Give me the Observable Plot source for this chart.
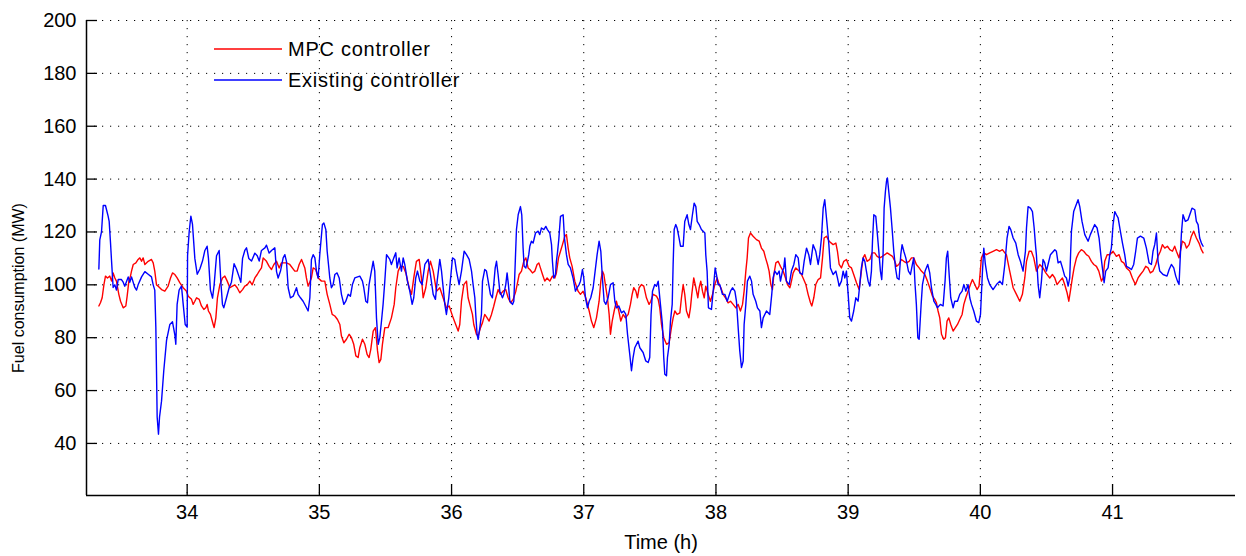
<!DOCTYPE html>
<html><head><meta charset="utf-8">
<script src="https://cdn.jsdelivr.net/npm/d3@7"></script>
<script src="https://cdn.jsdelivr.net/npm/@observablehq/plot@0.6"></script>
<style>
body{margin:0;background:#fff;}
#wrap{position:relative;width:1246px;height:556px;font-family:"Liberation Sans",Arial,sans-serif;}
#legend{position:absolute;left:0;top:0;pointer-events:none;}
</style></head><body><div id="wrap"></div>
<script>
const xTicks = [34,35,36,37,38,39,40,41];
const yTicks = [40,60,80,100,120,140,160,180,200];
const seriesNames = ["MPC controller","Existing controller"];
const seriesColors = ["#ff0000","#0000ff"];
const xLabel = "Time (h)";
const yLabel = "Fuel consumption (MW)";

// [time (h), fuel consumption (MW)]
const mpcSeries = [
[33.332,92],[33.344,93.2],[33.357,95.1],[33.370,100],[33.382,103.3],[33.397,102.6],[33.415,103.3],[33.428,101.4],[33.440,104.5],[33.453,102.6],[33.465,101.4],[33.483,96.4],[33.496,93.8],[33.516,91.3],[33.536,92],[33.546,95.7],[33.559,101.4],[33.571,103.3],[33.579,105.2],[33.592,107.7],[33.612,108.3],[33.629,109.6],[33.642,110.2],[33.655,108.9],[33.667,110.2],[33.680,107.7],[33.705,108.9],[33.730,109.6],[33.743,108.3],[33.755,105.2],[33.768,100],[33.781,99.5],[33.806,98.2],[33.831,97.6],[33.856,99.5],[33.874,102.6],[33.889,104.5],[33.907,103.9],[33.924,102.6],[33.944,100.8],[33.970,98.9],[33.995,97.6],[34.008,95.7],[34.033,94.5],[34.045,92.6],[34.058,93.8],[34.071,95.1],[34.091,94.5],[34.108,92],[34.126,90.7],[34.141,91.3],[34.151,92.6],[34.161,90.1],[34.176,88.8],[34.197,85],[34.204,83.8],[34.217,87.5],[34.229,95.1],[34.247,100],[34.267,102.6],[34.285,103.3],[34.303,101.4],[34.323,98.9],[34.343,99.5],[34.361,100],[34.378,98.9],[34.398,97],[34.419,98.2],[34.436,99.5],[34.454,100],[34.474,101.4],[34.492,100],[34.512,102.6],[34.530,103.9],[34.545,105.2],[34.562,106.4],[34.575,110.2],[34.600,108.9],[34.620,107],[34.638,105.8],[34.656,107.7],[34.676,108.9],
[34.696,106.4],[34.713,108.3],[34.751,108.3],[34.776,107.7],[34.814,105.2],[34.832,105.2],[34.847,107.7],[34.865,109.6],[34.890,106.4],[34.902,102.6],[34.915,99.5],[34.940,102.6],[34.953,106.4],[34.973,105.8],[34.991,102.6],[35.016,101.4],[35.041,101.4],[35.059,96.4],[35.079,92.6],[35.097,88.8],[35.117,88.2],[35.137,86.9],[35.155,85],[35.167,80.6],[35.185,78.1],[35.205,79.4],[35.225,81.3],[35.243,80],[35.260,77.5],[35.276,73.1],[35.293,72.5],[35.306,76.2],[35.326,79.4],[35.344,77.5],[35.361,73.7],[35.376,72.5],[35.389,75.6],[35.407,82.5],[35.424,83.8],[35.440,75],[35.452,70.6],[35.465,71.8],[35.477,77.5],[35.495,83.8],[35.520,83.8],[35.545,87.5],[35.566,92.6],[35.578,98.9],[35.596,105.2],[35.613,107],[35.634,107],[35.654,104.5],[35.679,98.9],[35.697,96.4],[35.714,102.6],[35.734,108.9],[35.755,109.6],[35.772,102.6],[35.785,95.1],[35.805,98.9],[35.823,105.2],[35.840,108.9],[35.861,105.2],[35.886,97.6],[35.911,98.9],[35.936,95.1],[35.961,91.3],[35.982,92],[36.012,87.5],[36.050,82.5],[36.062,85],[36.075,93.8],[36.093,100.1],[36.113,101.4],
[36.125,95.1],[36.138,92.6],[36.158,88.8],[36.168,85],[36.188,81.3],[36.201,80.6],[36.219,83.8],[36.234,85.7],[36.251,88.8],[36.269,87.5],[36.284,86.3],[36.302,88.8],[36.319,91.9],[36.335,95.1],[36.352,98.2],[36.370,96.4],[36.390,97.6],[36.410,98.2],[36.428,95.1],[36.446,93.2],[36.466,94.5],[36.486,97.6],[36.496,100.1],[36.511,103.9],[36.529,105.2],[36.546,108.9],[36.562,110.2],[36.579,106.4],[36.592,105.8],[36.612,104.5],[36.630,105.2],[36.647,107.7],[36.660,108.3],[36.672,106.4],[36.688,103.9],[36.705,101.4],[36.723,102.6],[36.743,101.4],[36.763,103.3],[36.781,102.6],[36.793,104.5],[36.809,110.2],[36.824,112.7],[36.839,115.2],[36.857,118.4],[36.869,119],[36.882,113.9],[36.894,110.2],[36.912,107],[36.932,101.4],[36.957,97.6],[36.975,96.4],[36.995,97.6],[37.015,95.1],[37.041,90.1],[37.058,86.3],[37.076,83.8],[37.096,87.5],[37.116,93.8],[37.129,101.4],[37.141,105.2],[37.152,103.9],[37.167,98.9],[37.179,95.1],[37.192,88.8],[37.202,81.3],[37.215,86.3],[37.230,90.1],[37.247,93.8],[37.265,90.1],[37.280,86.3],[37.298,88.8],[37.315,87.5],[37.336,88.8],[37.353,92.6],[37.366,96.4],[37.378,98.9],[37.394,97.6],[37.406,95.1],[37.419,98.9],[37.436,100.1],[37.454,99.5],[37.474,95.1],[37.494,92.6],[37.507,93.8],[37.525,96.4],[37.550,95.7],
[37.563,94.5],[37.575,91.3],[37.588,85],[37.605,80],[37.626,77.5],[37.646,78.1],[37.663,83.8],[37.676,87.5],[37.689,90.1],[37.706,88.8],[37.727,89.4],[37.739,95.1],[37.752,100.1],[37.764,96.4],[37.777,90.1],[37.795,87.5],[37.807,91.3],[37.817,96.4],[37.832,102.6],[37.848,98.9],[37.863,95.1],[37.873,98.9],[37.885,101.4],[37.898,97.6],[37.911,95.1],[37.923,99.5],[37.941,96.4],[37.958,93.8],[37.974,96.4],[37.991,100.1],[38.009,102.6],[38.024,100.1],[38.037,98.9],[38.054,96.4],[38.072,95.1],[38.092,93.2],[38.110,93.8],[38.130,92.6],[38.150,91.3],[38.168,92.6],[38.185,90.1],[38.201,92.6],[38.213,97.6],[38.226,105.2],[38.236,110.2],[38.246,117.7],[38.261,119.6],[38.281,118.4],[38.306,117.1],[38.327,116.5],[38.344,113.9],[38.362,112.7],[38.375,110.2],[38.390,107.7],[38.402,105.2],[38.415,100.1],[38.427,98.2],[38.438,103.9],[38.453,108.3],[38.470,108.9],[38.488,107],[38.508,105.2],[38.526,102.6],[38.541,100.1],[38.559,98.9],[38.571,101.4],[38.584,104.5],[38.604,106.4],[38.629,105.2],[38.647,103.9],[38.659,102.6],[38.680,100.1],[38.697,96.4],[38.715,93.2],[38.725,92],[38.740,95.1],[38.755,100.1],[38.773,102],[38.791,102.6],[38.806,110.2],[38.818,117.7],[38.836,118.4],[38.856,116.5],[38.886,115.2],[38.907,115.8],[38.919,112.7],[38.932,107.7],[38.949,106.4],[38.967,108.9],[38.987,109.6],
[39.007,107],[39.025,106.4],[39.042,103.9],[39.063,100.8],[39.083,98.2],[39.100,105.2],[39.113,110.2],[39.126,111.4],[39.143,108.9],[39.164,109.6],[39.181,112.1],[39.201,112.1],[39.219,110.8],[39.239,110.2],[39.259,110.8],[39.277,111.4],[39.295,112.1],[39.315,111.4],[39.335,110.8],[39.353,108.9],[39.365,107],[39.383,107.7],[39.403,109.6],[39.421,108.9],[39.441,108.3],[39.461,108.9],[39.479,110.2],[39.496,110.2],[39.516,107.7],[39.537,106.4],[39.554,105.2],[39.580,103.9],[39.600,101.4],[39.617,98.9],[39.638,95.7],[39.655,94.5],[39.668,93.2],[39.680,90.1],[39.693,87.5],[39.706,81.3],[39.723,79.4],[39.736,80],[39.748,86.3],[39.761,87.5],[39.776,85],[39.794,82.5],[39.811,83.8],[39.827,85],[39.844,86.9],[39.862,88.8],[39.875,92.6],[39.890,95.1],[39.907,97.6],[39.925,100.1],[39.940,102],[39.958,100.1],[39.975,98.2],[39.990,99.5],[40.008,110.2],[40.026,112.1],[40.046,111.4],[40.071,112.1],[40.096,112.7],[40.122,113.3],[40.147,112.7],[40.167,113.3],[40.185,112.1],[40.197,111.4],[40.222,105.2],[40.248,98.9],[40.273,96.4],[40.298,93.8],[40.318,96.4],[40.336,102.6],[40.349,108.9],[40.369,112.7],[40.386,112.7],[40.404,110.2],[40.424,105.2],
[40.449,107.7],[40.474,106.4],[40.495,104.5],[40.525,102.6],[40.545,103.9],[40.563,102.6],[40.580,100.1],[40.600,101.4],[40.621,102.6],[40.638,100.1],[40.656,97],[40.669,93.8],[40.681,97.6],[40.696,102.6],[40.709,106.4],[40.727,110.2],[40.744,112.1],[40.764,113.3],[40.782,112.7],[40.802,111.4],[40.820,110.8],[40.840,108.9],[40.858,107.7],[40.878,107],[40.896,105.2],[40.916,101.4],[40.928,102.6],[40.941,108.9],[40.959,111.4],[40.979,111.4],[41.004,112.7],[41.029,110.8],[41.049,111.4],[41.067,108.9],[41.085,108.3],[41.105,106.4],[41.130,105.2],[41.150,102.6],[41.173,100.1],[41.193,102.6],[41.211,103.9],[41.231,105.2],[41.251,107],[41.269,106.4],[41.286,104.5],[41.306,105.2],[41.327,107.7],[41.344,110.8],[41.362,112.7],[41.377,115.2],[41.395,113.9],[41.415,114.6],[41.433,113.3],[41.453,112.7],[41.470,114.6],[41.483,112.7],[41.503,110.2],[41.513,112.7],[41.528,116.5],[41.546,115.8],[41.559,113.9],[41.579,115.2],[41.596,118.4],[41.614,120.3],[41.634,117.7],[41.654,115.8],[41.672,113.3],[41.685,112.1]
];

const existingSeries = [
[33.332,106],[33.339,117],[33.352,120],[33.365,130],[33.382,130],[33.402,126],[33.410,124],[33.415,120],[33.420,116],[33.428,109],[33.440,99],[33.453,100],[33.465,98],[33.478,102],[33.503,102],[33.516,101],[33.528,99.5],[33.554,103],[33.566,101],[33.579,103],[33.604,99],[33.617,98],[33.629,100],[33.655,103],[33.680,105],[33.705,104],[33.730,103],[33.743,100],[33.755,98],[33.763,84],[33.768,67.5],[33.773,50],[33.783,43.5],[33.791,50],[33.806,56],[33.823,67.5],[33.844,79],[33.869,85],[33.889,86],[33.907,81],[33.914,77.5],[33.924,92.6],[33.939,98],[33.957,99.5],[33.970,92.6],[33.985,85],[34.000,84],[34.003,111],[34.015,120],[34.028,126],[34.040,123],[34.058,110],[34.076,104],[34.096,106],[34.116,109],[34.134,113],[34.151,114.6],[34.161,110],[34.176,98],[34.192,95],[34.204,100],[34.222,111],[34.242,113],[34.255,101],[34.267,92.6],[34.277,91.3],[34.297,95],[34.318,99],[34.335,101],[34.355,108],[34.373,106],[34.393,103],[34.406,101],[34.419,110],[34.436,113],[34.449,114],[34.466,110],[34.487,109],[34.512,112],[34.530,111],[34.545,109],[34.562,113],[34.588,114],[34.600,115],[34.620,112],[34.638,113],[34.663,114],[34.676,105],
[34.688,102.6],[34.706,105.2],[34.726,110.2],[34.739,111.4],[34.751,108.9],[34.764,98.9],[34.781,95.1],[34.802,95.7],[34.827,98.9],[34.839,96.4],[34.857,95.1],[34.877,93.8],[34.897,91.9],[34.915,90.1],[34.928,95.1],[34.940,109.6],[34.953,111.4],[34.966,110.2],[34.978,105.2],[34.991,102.6],[35.003,111.4],[35.023,122.8],[35.034,123.4],[35.049,120.9],[35.059,112.7],[35.069,107.7],[35.079,102.6],[35.091,98.9],[35.104,100.1],[35.117,103.9],[35.134,104.5],[35.150,102.6],[35.167,96.4],[35.185,92.6],[35.200,93.8],[35.218,96.4],[35.235,95.7],[35.250,100.1],[35.268,102.6],[35.306,103.3],[35.326,101.4],[35.336,98.9],[35.351,93.8],[35.364,93.2],[35.376,100.1],[35.389,103.9],[35.407,108.9],[35.419,105.2],[35.432,87.5],[35.445,77.5],[35.457,80],[35.470,86.3],[35.482,92.6],[35.495,101.4],[35.508,111.4],[35.533,109.6],[35.545,107.7],[35.563,110.2],[35.578,112.1],[35.588,106.4],[35.603,110.2],[35.621,105.2],[35.634,110.2],[35.646,107.7],[35.666,101.4],[35.684,97.6],[35.702,92.6],[35.714,95.1],[35.729,102.6],[35.742,105.2],[35.760,101.4],[35.777,100.1],[35.798,107.7],[35.823,109.6],[35.840,103.9],[35.861,96.4],[35.878,94.5],[35.891,101.4],[35.911,109.6],[35.924,105.2],[35.949,92.6],[35.961,88.8],[35.979,95.1],[36.007,110.2],[36.024,109.6],[36.037,105.2],[36.057,100.1],[36.075,105.2],[36.095,112.7],[36.113,111.4],
[36.133,109.6],[36.151,105.2],[36.163,100.1],[36.176,95.1],[36.183,88.8],[36.193,81.3],[36.201,79.4],[36.214,83.8],[36.226,88.8],[36.234,101.4],[36.251,105.8],[36.264,105.2],[36.277,101.4],[36.294,96.4],[36.309,95.1],[36.319,100.1],[36.330,106.4],[36.340,108.9],[36.352,103.9],[36.365,97.6],[36.385,95.1],[36.395,96.4],[36.410,100.1],[36.420,104.5],[36.430,100.1],[36.441,93.8],[36.461,92.6],[36.471,93.8],[36.483,110.2],[36.491,121],[36.504,126.5],[36.521,129.6],[36.531,126.5],[36.541,113.9],[36.549,107],[36.562,106.4],[36.574,108.9],[36.584,111.4],[36.592,114.6],[36.604,116.5],[36.617,115.8],[36.635,119.6],[36.655,120.3],[36.667,119],[36.680,121.5],[36.698,120.9],[36.713,122.1],[36.725,120.9],[36.743,119.6],[36.756,115.2],[36.763,108.9],[36.773,102.6],[36.786,103.9],[36.793,108.9],[36.801,112.1],[36.811,117.1],[36.824,125.9],[36.844,126.5],[36.854,117.7],[36.869,111.4],[36.882,107.7],[36.899,106.4],[36.919,102.6],[36.937,97.6],[36.950,98.9],[36.965,100.1],[36.975,101.4],[36.990,105.8],[37.000,102.6],[37.013,95.1],[37.028,91.3],[37.041,93.8],[37.053,95.1],[37.071,98.9],[37.086,105.2],[37.101,111.4],[37.116,116.5],[37.129,112.7],[37.141,102.6],[37.154,93.8],[37.167,92.6],[37.184,95.1],[37.202,100.1],[37.222,100.8],[37.235,93.8],[37.247,91.3],[37.265,92],[37.285,89.4],[37.303,90.1],[37.318,88.8],[37.331,81.3],[37.348,73.7],[37.361,67.5],[37.373,72.5],[37.386,76.2],[37.411,78.7],[37.424,76.2],[37.449,74.4],[37.469,71.2],[37.487,70.6],[37.499,72.5],[37.509,88.8],[37.520,97.6],[37.537,100.1],[37.550,99.5],
[37.563,101.4],[37.580,92.6],[37.595,85],[37.605,72.5],[37.613,66.2],[37.626,65.6],[37.633,72.5],[37.646,77.5],[37.656,86.3],[37.669,92.6],[37.676,107.7],[37.684,120.9],[37.696,122.8],[37.706,121.5],[37.721,117.7],[37.732,114.6],[37.752,114.6],[37.764,124],[37.782,126.5],[37.795,122.8],[37.807,120.9],[37.822,126.5],[37.835,130.9],[37.848,129.6],[37.858,124],[37.873,122.8],[37.890,120.9],[37.916,119.6],[37.923,111.4],[37.933,105.2],[37.943,91.3],[37.966,90.7],[37.979,97.6],[37.994,106.4],[38.004,103.9],[38.016,100.1],[38.029,100.1],[38.049,96.4],[38.067,96.4],[38.085,93.8],[38.110,97.6],[38.125,98.9],[38.143,97.6],[38.155,93.8],[38.168,83.8],[38.180,75],[38.193,68.7],[38.206,71.2],[38.213,85],[38.226,92.6],[38.238,101.4],[38.256,103.3],[38.269,101.4],[38.281,96.4],[38.301,93.8],[38.314,91.3],[38.332,90.1],[38.344,83.8],[38.357,87.5],[38.382,90.1],[38.407,88.8],[38.422,96.4],[38.432,102.6],[38.445,105.2],[38.463,103.9],[38.478,105.2],[38.488,101.4],[38.503,105.2],[38.513,106.4],[38.521,110.2],[38.533,101.4],[38.554,100.1],[38.571,105.2],[38.589,107.7],[38.604,111.4],[38.622,110.2],[38.634,104.5],[38.654,103.9],[38.667,108.9],[38.685,113.9],[38.702,111.4],[38.715,107.7],[38.735,115.2],[38.755,112.7],[38.773,107.7],[38.785,111.4],[38.798,117.7],[38.811,129],[38.823,132.2],[38.836,125.3],[38.843,121.5],[38.854,115.2],[38.866,106.4],[38.886,103.9],[38.907,105.2],[38.919,102.6],[38.932,99.5],[38.949,101.4],[38.962,105.2],[38.975,102.6],[38.987,105.2],
[39.000,96.4],[39.012,87.5],[39.025,86.3],[39.042,90.1],[39.058,95.1],[39.075,93.8],[39.088,100.1],[39.100,106.4],[39.113,110.2],[39.126,108.9],[39.138,105.2],[39.151,101.4],[39.164,99.5],[39.176,105.2],[39.184,116.5],[39.194,126.5],[39.209,125.9],[39.219,120.3],[39.232,112.7],[39.244,105.2],[39.254,102],[39.264,111.4],[39.272,129],[39.282,135.4],[39.290,139.2],[39.297,140.4],[39.307,135.4],[39.320,129],[39.332,121.5],[39.345,112.7],[39.358,106.4],[39.370,102.6],[39.385,102],[39.398,111.4],[39.408,115.2],[39.421,112.7],[39.436,110.2],[39.446,107.7],[39.456,105.2],[39.471,103.9],[39.486,107.7],[39.496,110.2],[39.506,100.1],[39.516,92.6],[39.527,80],[39.537,79.4],[39.552,92.6],[39.562,100.1],[39.582,105.2],[39.602,107.7],[39.617,104.5],[39.630,98.9],[39.648,93.8],[39.663,92.6],[39.675,91.3],[39.698,92.6],[39.718,92],[39.733,101.4],[39.743,110.2],[39.753,112.7],[39.764,103.9],[39.776,95.1],[39.794,91.3],[39.806,93.8],[39.827,93.8],[39.844,96.4],[39.862,97.6],[39.875,100.1],[39.890,97.6],[39.907,100.1],[39.920,95.1],[39.933,92.6],[39.950,90.1],[39.970,86.3],[39.988,85.7],[40.001,88.8],[40.016,105.2],[40.026,113.9],[40.038,107.7],[40.054,102.6],[40.071,100.1],[40.096,98.2],[40.122,100.1],[40.147,101.4],[40.167,100.1],[40.185,107.7],[40.202,117.7],[40.217,122.1],[40.230,120.9],[40.248,117.7],[40.268,115.8],[40.286,111.4],[40.303,108.9],[40.323,105.2],[40.341,112.7],[40.349,121.5],[40.361,129.6],[40.379,129],[40.394,127.7],[40.407,121.5],[40.419,113.9],[40.424,111.4],
[40.437,100.1],[40.449,95.1],[40.462,101.4],[40.474,109.6],[40.487,108.3],[40.500,105.2],[40.512,107.7],[40.530,111.4],[40.563,113.3],[40.575,112.7],[40.588,108.3],[40.606,108.9],[40.621,106.4],[40.638,103.3],[40.651,102.6],[40.664,99.5],[40.676,102.6],[40.689,120.3],[40.706,127.7],[40.739,132.2],[40.752,129.6],[40.769,124],[40.790,119],[40.815,116.5],[40.832,119],[40.865,122.8],[40.883,121.5],[40.898,117.7],[40.911,111.4],[40.923,106.4],[40.936,100.8],[40.948,105.2],[40.966,106.4],[40.979,111.4],[40.991,113.9],[41.004,122.8],[41.017,127.7],[41.029,126.5],[41.042,125.3],[41.059,120.3],[41.075,115.8],[41.092,111.4],[41.105,107],[41.125,106.4],[41.143,105.8],[41.160,107.7],[41.175,112.7],[41.188,117.7],[41.211,118.4],[41.236,117.7],[41.256,113.9],[41.276,108.3],[41.294,107.7],[41.306,112.7],[41.319,115.2],[41.332,119.6],[41.344,108.9],[41.357,105.2],[41.382,103.9],[41.412,103.3],[41.428,105.8],[41.445,107.7],[41.463,106.4],[41.478,103.3],[41.491,101.4],[41.503,100.1],[41.513,111.4],[41.521,119.6],[41.533,126.5],[41.551,124],[41.571,124.6],[41.584,126.5],[41.601,129],[41.622,128.4],[41.634,124],[41.647,122.8],[41.659,117.7],[41.672,115.8],[41.685,114.6]
];

const xDomain = [33.2385, 41.93];
const yDomain = [20.3, 200];

const mpcData = mpcSeries.map(([t, v]) => ({t, v}));
const existingData = existingSeries.map(([t, v]) => ({t, v}));

const font = '"Liberation Sans", Arial, sans-serif';
const dots = {stroke: "#000", strokeOpacity: 1, strokeWidth: 1, strokeDasharray: "1.2,6.8"};

const chart = Plot.plot({
  width: 1246, height: 556,
  marginLeft: 86, marginRight: 11, marginTop: 20, marginBottom: 61,
  style: {fontFamily: font, fontSize: "20px", background: "#fff", color: "#000", overflow: "visible"},
  x: {domain: xDomain},
  y: {domain: yDomain},
  marks: [
    Plot.gridX(xTicks, dots),
    Plot.gridY(yTicks, dots),
    Plot.line(mpcData, {x: "t", y: "v", stroke: seriesColors[0], strokeWidth: 1.4}),
    Plot.line(existingData, {x: "t", y: "v", stroke: seriesColors[1], strokeWidth: 1.4}),
    Plot.ruleY([yDomain[0]], {stroke: "#000", strokeWidth: 1.5}),
    Plot.ruleX([xDomain[0]], {stroke: "#000", strokeWidth: 1.5}),
    Plot.tickX(xTicks, {x: d => d, insetTop: 464, stroke: "#000", strokeWidth: 1.3}),
    Plot.tickY(yTicks, {y: d => d, insetRight: 1138, stroke: "#000", strokeWidth: 1.3}),
    Plot.axisX(xTicks, {tickSize: 0, tickPadding: 9, label: null, fontSize: 20, tickFormat: d => String(d)}),
    Plot.axisY(yTicks, {tickSize: 0, tickPadding: 10, label: null, fontSize: 20, tickFormat: d => String(d)}),
    Plot.text([xLabel], {text: d => d, frameAnchor: "bottom", dy: 53, fontSize: 20, letterSpacing: 0.5}),
    Plot.text([yLabel], {text: d => d, frameAnchor: "left", textAnchor: "middle", dx: -68, dy: 30, rotate: -90, fontSize: 16})
  ]
});

const wrap = document.getElementById("wrap");
wrap.appendChild(chart);

// legend (inside the axes, top-left), drawn as SVG lines + text
const ns = "http://www.w3.org/2000/svg";
const lg = document.createElementNS(ns, "svg");
lg.setAttribute("id", "legend");
lg.setAttribute("width", "300");
lg.setAttribute("height", "100");
lg.style.left = "200px";
lg.style.top = "20px";
seriesNames.forEach((name, i) => {
  const cy = 29 + i * 31;
  const ln = document.createElementNS(ns, "line");
  ln.setAttribute("x1", "14"); ln.setAttribute("x2", "82");
  ln.setAttribute("y1", cy); ln.setAttribute("y2", cy);
  ln.setAttribute("stroke", seriesColors[i]);
  ln.setAttribute("stroke-width", "1.5");
  lg.appendChild(ln);
  const tx = document.createElementNS(ns, "text");
  tx.setAttribute("x", "88"); tx.setAttribute("y", cy);
  tx.setAttribute("dy", "0.35em");
  tx.setAttribute("font-size", "20");
  tx.setAttribute("letter-spacing", "0.75");
  tx.setAttribute("font-family", font);
  tx.setAttribute("fill", "#000");
  tx.textContent = name;
  lg.appendChild(tx);
});
wrap.appendChild(lg);
</script></body></html>
